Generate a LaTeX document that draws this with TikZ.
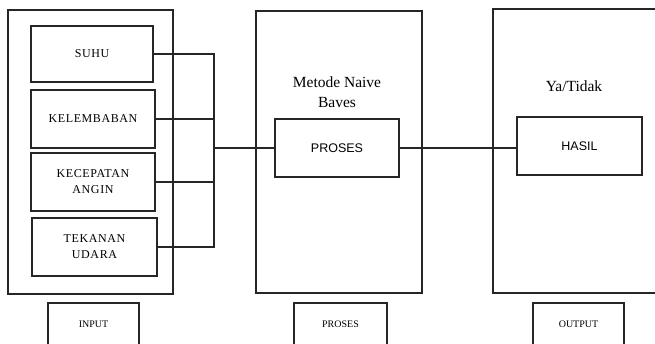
\documentclass[tikz,border=0pt]{standalone}
\usepackage{fontspec}
\setmainfont{Liberation Serif}
\newfontfamily\sansf{Liberation Sans}
\newfontfamily\spacedf[LetterSpace=5]{Liberation Serif}
\begin{document}
\begin{tikzpicture}[x=1pt,y=1pt,
  frame/.style={draw=black!85,line width=1.1pt,rectangle,inner sep=0pt},
  item/.style={frame,align=center,font=\spacedf\fontsize{12}{16}\selectfont},
  inbox/.style={frame,align=center,font=\sansf\fontsize{12.5}{15}\selectfont},
  tag/.style={frame,font=\fontsize{10}{12}\selectfont},
  title/.style={align=center,font=\fontsize{15.5}{20}\selectfont},
  wire/.style={draw=black!85,line width=1.1pt}]
\useasboundingbox (0,0) rectangle (655,-343);
\clip (0,0) rectangle (655,-343);
% outer frames
\node[frame,minimum width=165pt,minimum height=284pt] (inframe) at (90.5,-152) {};
\node[frame,minimum width=166pt,minimum height=282pt] (midframe) at (339,-152) {};
\node[frame,minimum width=190pt,minimum height=284pt] (outframe) at (588,-151) {};
% input items
\node[item,minimum width=122pt,minimum height=56pt] (suhu) at (92,-54) {SUHU};
\node[item,minimum width=124pt,minimum height=58pt] (kelembaban) at (93,-119) {KELEMBABAN};
\node[item,minimum width=124pt,minimum height=58pt] (kecepatan) at (93,-182) {KECEPATAN\\ANGIN};
\node[item,minimum width=125pt,minimum height=58pt] (tekanan) at (94.5,-247) {TEKANAN\\UDARA};
% middle
\node[title] (metode) at (337,-92) {Metode Naive\\Baves};
\node[inbox,minimum width=124pt,minimum height=58pt] (proses) at (337,-148) {PROSES};
% right
\node[title] (yatidak) at (574,-86) {Ya/Tidak};
\node[inbox,minimum width=125pt,minimum height=58pt] (hasil) at (579.5,-146) {HASIL};
% bottom tags
\node[tag,minimum width=91pt,minimum height=60pt] (input) at (93.5,-333) {};
\node[tag,minimum width=93pt,minimum height=60pt] (prosestag) at (340.5,-333) {};
\node[tag,minimum width=91pt,minimum height=60pt] (output) at (578.5,-333) {};
\node[font=\fontsize{10}{12}\selectfont] (inputlbl) at (input.center |- 0,-324) {INPUT};
\node[font=\fontsize{10}{12}\selectfont] (proseslbl) at (prosestag.center |- 0,-324) {PROSES};
\node[font=\fontsize{10}{12}\selectfont] (outputlbl) at (output.center |- 0,-324) {OUTPUT};
% connectors
\coordinate (bus) at (214,0);
\draw[wire] (suhu.east) -- (suhu.east -| bus) -- (tekanan.east -| bus) -- (tekanan.east);
\draw[wire] (kelembaban.east) -- (kelembaban.east -| bus);
\draw[wire] (kecepatan.east) -- (kecepatan.east -| bus);
\draw[wire] (bus |- proses.west) -- (proses.west);
\draw[wire] (proses.east) -- (proses.east -| hasil.west);
\end{tikzpicture}
\end{document}
